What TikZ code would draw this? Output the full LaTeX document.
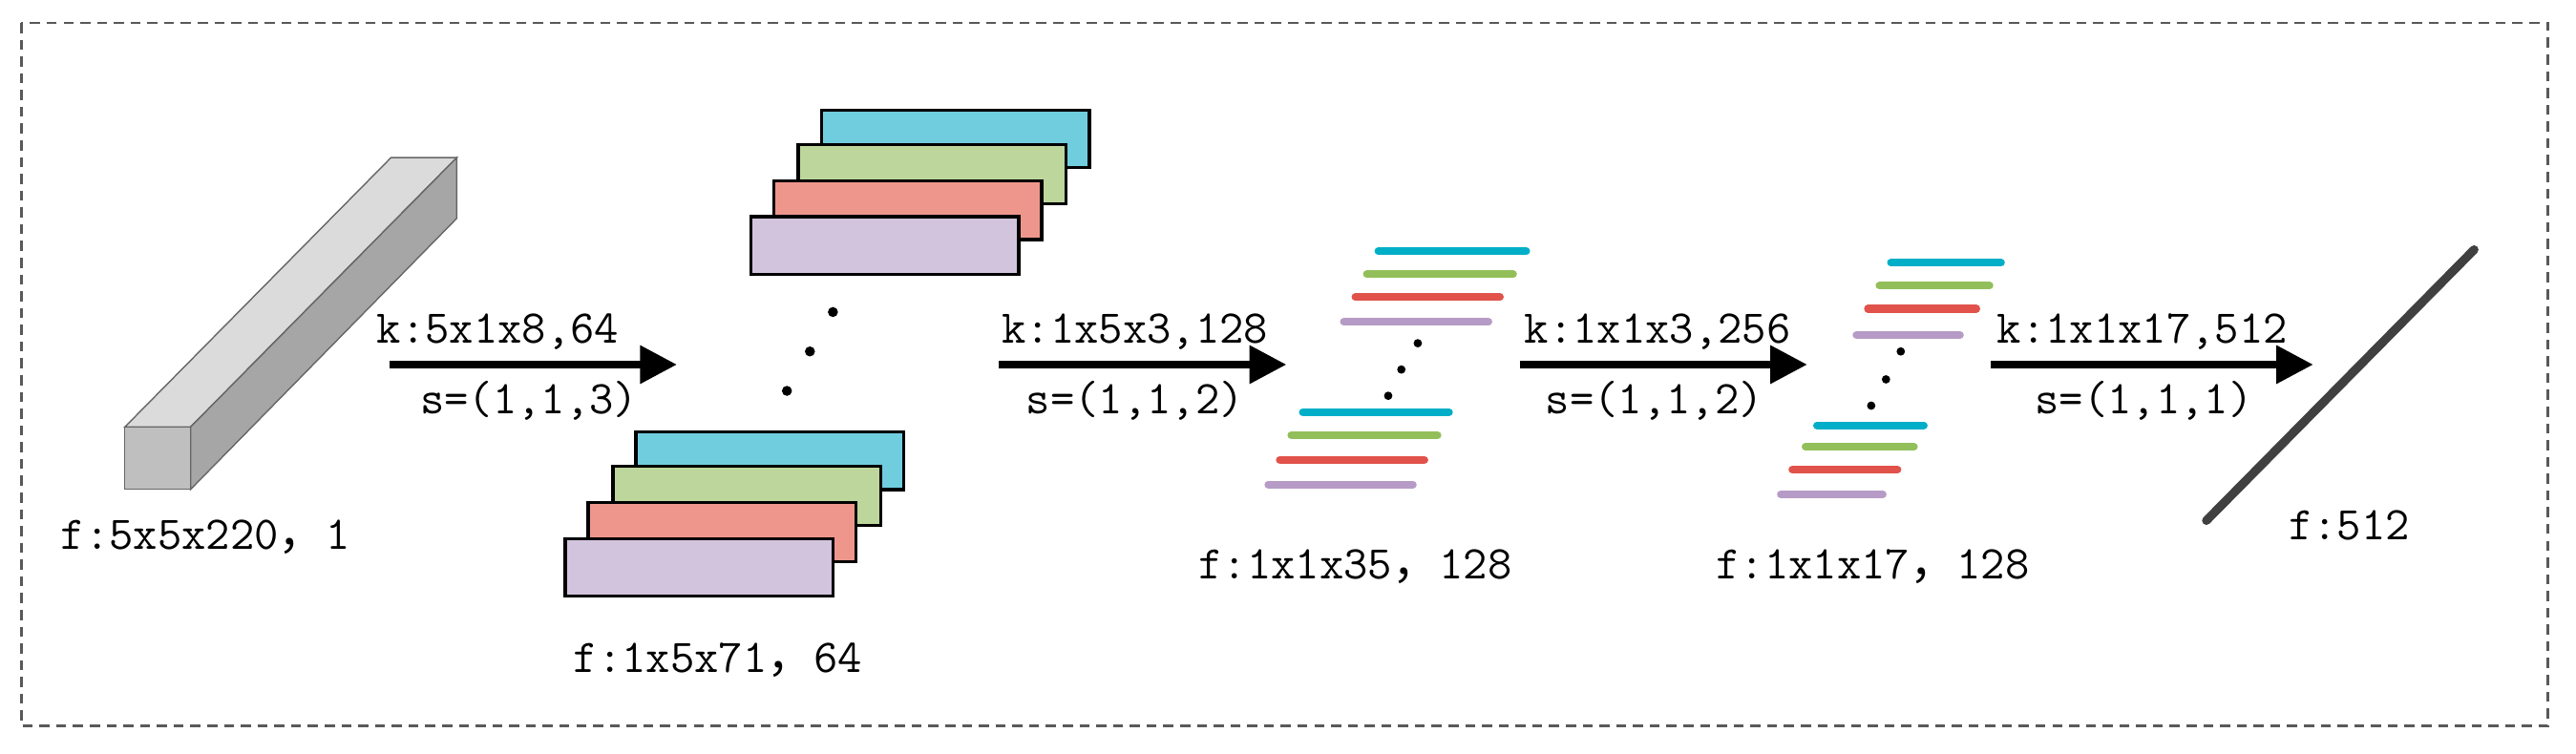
\documentclass[tikz,border=0pt]{standalone}
\usepackage{fontspec}
\newfontfamily\cjk{Noto Sans CJK SC}
\usetikzlibrary{arrows.meta}
\definecolor{rc}{HTML}{70CDDD}\definecolor{rg}{HTML}{BDD69C}
\definecolor{rr}{HTML}{EF968C}\definecolor{rp}{HTML}{D2C4DC}
\definecolor{lc}{HTML}{00AEC7}\definecolor{lg}{HTML}{92BF5A}
\definecolor{lr}{HTML}{E0524A}\definecolor{lp}{HTML}{B59BC6}
\tikzset{
 lbl/.style={font=\fontsize{14}{16}\selectfont\ttfamily, inner sep=0pt},
 arr/.style={line width=2.2pt, -{Triangle[length=11pt,width=11pt]}},
 rct/.style={draw=black, line width=1pt},
 bar/.style={line width=2.3pt, line cap=round},
 dot/.style={circle, fill=black, inner sep=0pt, minimum size=3pt},
}
\newcommand{\cm}{{\cjk ，}}
\begin{document}
\begin{tikzpicture}[x=0.017207cm,y=-0.017207cm]
\useasboundingbox (0,0) rectangle (1568,459);
\draw[densely dashed, gray!70!black, line width=0.8pt] (13,14) rectangle (1551,442);
% bar
\draw[draw=black!60, line width=0.4pt, fill=black!14] (76,260) -- (238,96) -- (278,96) -- (116,260) -- cycle;
\draw[draw=black!60, line width=0.4pt, fill=black!35] (116,260) -- (278,96) -- (278,133) -- (116,298) -- cycle;
\draw[draw=black!60, line width=0.4pt, fill=black!25] (76,260) rectangle (116,298);
\node[lbl] (l1) at (125,327) {f:5x5x220\cm 1};
% rect groups
\foreach \dx/\dy/\n in {0/0/t, -113/196/b}{
 \begin{scope}[shift={(\dx,\dy)}]
 \draw[rct, fill=rc] (500,67) rectangle (663,102);
 \draw[rct, fill=rg] (486,88) rectangle (649,124);
 \draw[rct, fill=rr] (471,110) rectangle (634,146);
 \draw[rct, fill=rp] (457,132) rectangle (620,167);
 \end{scope}}
\node[dot] (d1) at (507,190) {};\node[dot] (d2) at (493,214) {};\node[dot] (d3) at (479,238) {};
\node[lbl] (l2) at (437,402) {f:1x5x71\cm 64};
% line group 1
\draw[bar, lc] (839,153) -- (929,153);
\draw[bar, lg] (832,167) -- (921,167);
\draw[bar, lr] (825,181) -- (913,181);
\draw[bar, lp] (818,196) -- (906,196);
\draw[bar, lc] (793,251) -- (882,251);
\draw[bar, lg] (786,265) -- (875,265);
\draw[bar, lr] (779,280) -- (867,280);
\draw[bar, lp] (772,295) -- (860,295);
\node[dot, minimum size=2.5pt] at (863,209) {};\node[dot, minimum size=2.5pt] at (853,225) {};\node[dot, minimum size=2.5pt] at (845,241) {};
\node[lbl] (l3) at (825,345) {f:1x1x35\cm 128};
% line group 2
\draw[bar, lc] (1151,160) -- (1218,160);
\draw[bar, lg] (1144,174) -- (1211,174);
\draw[bar, lr] (1137,188) -- (1203,188);
\draw[bar, lp] (1130,204) -- (1193,204);
\draw[bar, lc] (1106,259) -- (1171,259);
\draw[bar, lg] (1099,272) -- (1165,272);
\draw[bar, lr] (1091,286) -- (1155,286);
\draw[bar, lp] (1084,301) -- (1146,301);
\node[dot, minimum size=2.5pt] at (1157,214) {};\node[dot, minimum size=2.5pt] at (1148,231) {};\node[dot, minimum size=2.5pt] at (1139,247) {};
\node[lbl] (l4) at (1140,345) {f:1x1x17\cm 128};
% final
\coordinate (fa) at (1343,317); \coordinate (fb) at (1506,152);
\draw[line width=2.6pt, black!75, line cap=round] (fa) -- (fb);
\node[lbl] (l5) at (1430,320) {f:512};
% arrows
\coordinate (a1s) at (237,222); \coordinate (a1e) at (412,222);
\coordinate (a2s) at (608,222); \coordinate (a2e) at (783,222);
\coordinate (a3s) at (925,222); \coordinate (a3e) at (1100,222);
\coordinate (a4s) at (1212,222); \coordinate (a4e) at (1408,222);
\draw[arr] (a1s) -- (a1e); \draw[arr] (a2s) -- (a2e);
\draw[arr] (a3s) -- (a3e); \draw[arr] (a4s) -- (a4e);
\node[lbl] (k1) at (303,202) {k:5x1x8,64};  \node[lbl] (s1) at (322,244) {s=(1,1,3)};
\node[lbl] (k2) at (691,202) {k:1x5x3,128}; \node[lbl] (s2) at (691,244) {s=(1,1,2)};
\node[lbl] (k3) at (1009,202) {k:1x1x3,256}; \node[lbl] (s3) at (1007,244) {s=(1,1,2)};
\node[lbl] (k4) at (1304,202) {k:1x1x17,512}; \node[lbl] (s4) at (1305,244) {s=(1,1,1)};
\end{tikzpicture}
\end{document}
